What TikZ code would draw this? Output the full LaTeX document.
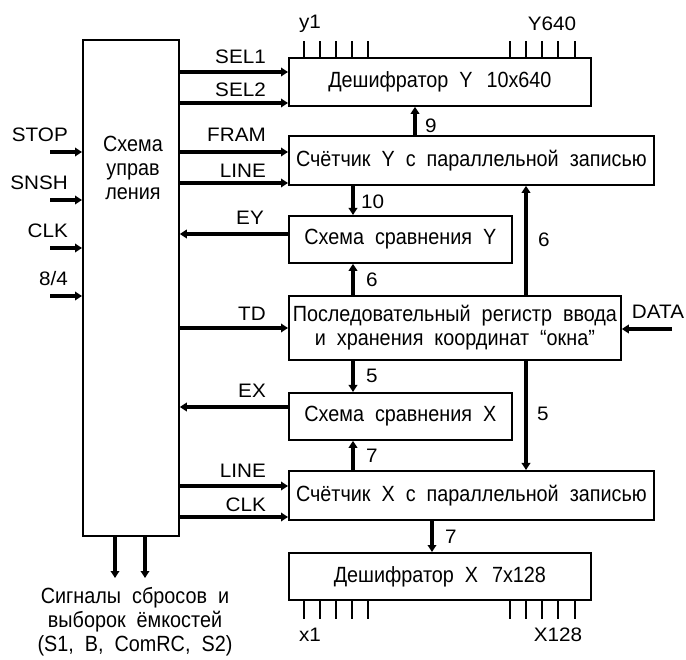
\documentclass[tikz,border=0pt]{standalone}
\usepackage{fontspec}
\setmainfont{Liberation Sans}[FakeStretch=1.06]
\newfontfamily\boxfont{Liberation Sans}[FakeStretch=0.9, WordSpace=2]
\usetikzlibrary{arrows.meta}
\begin{document}
\begin{tikzpicture}[x=1pt,y=-1pt,
  every node/.style={font=\fontsize{19.5}{24}\selectfont, inner sep=0pt},
  bt/.style={font=\boxfont\fontsize{22}{24}\selectfont},
  box/.style={draw, line width=1.8pt, anchor=north west, align=center, bt},
  arr/.style={line width=3.2pt, -{Triangle[length=7pt,width=8.5pt]}},
  tk/.style={line width=1.6pt},
  lr/.style={anchor=east},
  ll/.style={anchor=west}]
\useasboundingbox (0,0) rectangle (686,660);
% blocks
\node[box, minimum width=96pt, minimum height=496pt] (ctrl) at (82,39) {};
\node[align=center, bt] (ctrltxt) at (133,168) {Схема\\управ\\ления};
\node[box, minimum width=302pt, minimum height=48pt] (decY) at (288,57) {Дешифратор Y\hspace{14pt}10x640};
\node[box, minimum width=365pt, minimum height=49pt] (cntY) at (288,135) {Счётчик Y с параллельной записью};
\node[box, minimum width=223pt, minimum height=47pt] (cmpY) at (288,215) {Схема сравнения Y};
\node[box, minimum width=332pt, minimum height=64pt] (reg) at (288,295) {Последовательный регистр ввода\\и хранения координат “окна”};
\node[box, minimum width=223pt, minimum height=47pt] (cmpX) at (288,392) {Схема сравнения X};
\node[box, minimum width=365pt, minimum height=49pt] (cntX) at (288,470) {Счётчик X с параллельной записью};
\node[box, minimum width=302pt, minimum height=47pt] (decX) at (288,552) {Дешифратор X\hspace{14pt}7x128};
% ticks
\foreach \t in {304,320,336,352,368,510,526,542,558,575} {
  \draw[tk] (decY.north -| \t,0) -- ++(0,-16);
  \draw[tk] (decX.south -| \t,0) -- ++(0,18);
}
\node (ly1) at (310,24) {y1};
\node (lY640) at (552,24) {Y640};
\node (lx1) at (310,635) {x1};
\node (lX128) at (558,635) {X128};
% inputs
\foreach \n/\y/\l in {STOP/152/STOP, SNSH/200/SNSH, CLK/248/CLK, MODE/296/8\slash 4} {
  \coordinate (in\n) at (50,\y);
  \draw[arr] (in\n) -- (ctrl.west |- in\n);
  \node[lr] (l\n) at (68,\y-17) {\l};
}
% control outputs
\draw[arr] (ctrl.east |- 0,72) -- (decY.west |- 0,72);
\node[lr] (lsel1) at (266,57) {SEL1};
\draw[arr] (ctrl.east |- 0,103) -- (decY.west |- 0,103);
\node[lr] (lsel2) at (266,90) {SEL2};
\draw[arr] (ctrl.east |- 0,152) -- (cntY.west |- 0,152);
\node[lr] (lfram) at (266,135) {FRAM};
\draw[arr] (ctrl.east |- 0,183) -- (cntY.west |- 0,183);
\node[lr] (lline1) at (266,171) {LINE};
\draw[arr] (cmpY.west |- 0,234) -- (ctrl.east |- 0,234);
\node[lr] (ley) at (264,218) {EY};
\draw[arr] (ctrl.east |- 0,328) -- (reg.west |- 0,328);
\node[lr] (ltd) at (266,314) {TD};
\draw[arr] (cmpX.west |- 0,407) -- (ctrl.east |- 0,407);
\node[lr] (lex) at (266,391) {EX};
\draw[arr] (ctrl.east |- 0,486) -- (cntX.west |- 0,486);
\node[lr] (lline2) at (266,471) {LINE};
\draw[arr] (ctrl.east |- 0,517) -- (cntX.west |- 0,517);
\node[lr] (lclk2) at (266,505) {CLK};
% bottom outputs
\coordinate (o1) at (115,578);
\coordinate (o2) at (145,578);
\draw[arr] (ctrl.south -| o1) -- (o1);
\draw[arr] (ctrl.south -| o2) -- (o2);
\node[align=center, bt] (sig) at (135,622) {Сигналы сбросов и\\выборок ёмкостей\\(S1, B, ComRC, S2)};
% data
\coordinate (dataIn) at (672,329);
\draw[arr] (dataIn) -- (reg.east |- dataIn);
\node (ldata) at (658,312) {DATA};
% vertical buses
\draw[arr] (cntY.north -| 415,0) -- (decY.south -| 415,0);
\node[ll] (l9) at (425,126) {9};
\draw[arr] (cntY.south -| 353,0) -- (cmpY.north -| 353,0);
\node[ll] (l10) at (361,202) {10};
\draw[arr] (reg.north -| 353,0) -- (cmpY.south -| 353,0);
\node[ll] (l6a) at (366,280) {6};
\draw[arr] (reg.north -| 526,0) -- (cntY.south -| 526,0);
\node[ll] (l6b) at (538,240) {6};
\draw[arr] (reg.south -| 353,0) -- (cmpX.north -| 353,0);
\node[ll] (l5a) at (366,376) {5};
\draw[arr] (reg.south -| 526,0) -- (cntX.north -| 526,0);
\node[ll] (l5b) at (537,414) {5};
\draw[arr] (cntX.north -| 353,0) -- (cmpX.south -| 353,0);
\node[ll] (l7a) at (366,456) {7};
\draw[arr] (cntX.south -| 432,0) -- (decX.north -| 432,0);
\node[ll] (l7b) at (445,537) {7};
\end{tikzpicture}
\end{document}
